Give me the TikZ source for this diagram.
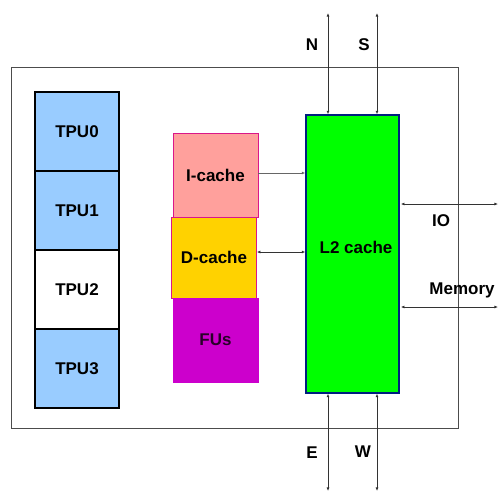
\documentclass[tikz,border=0pt]{standalone}
\usepackage{fontspec}
\setmainfont{Liberation Sans}
\usetikzlibrary{arrows.meta,positioning}

\definecolor{tpublue}{HTML}{99CCFF}
\definecolor{icpink}{HTML}{FFA09C}
\definecolor{dcgold}{HTML}{FFD200}
\definecolor{fumag}{HTML}{CC00CC}
\definecolor{l2green}{HTML}{00FF00}
\definecolor{l2edge}{HTML}{001F7F}

\begin{document}
\begin{tikzpicture}[
  x=0.03cm, y=-0.03cm,
  font=\fontsize{14.5}{16}\selectfont\bfseries,
  tpu/.style={draw=black,line width=1.2pt,fill=tpublue,minimum width=2.52cm,
              minimum height=2.37cm,inner sep=0pt},
  cachebox/.style={draw=magenta!80!violet,line width=0.6pt,minimum width=2.55cm,
              minimum height=2.5cm,inner sep=0pt},
  arr/.style={{Latex[length=3pt,width=2.5pt]}-{Latex[length=3pt,width=2.5pt]},
              line width=0.6pt,black!80},
  lbl/.style={inner sep=0pt},
]

% ---- Page frame -------------------------------------------------------------
\useasboundingbox (0,0) rectangle (499,492);

% ---- Chip outline -----------------------------------------------------------
\node[draw=black!70,line width=0.6pt,minimum width=13.41cm,minimum height=10.83cm,
      inner sep=0pt] (chip) at (234.5,247.5) {};

% ---- Thread processing units ------------------------------------------------
\node[tpu] (TPU0) at (77,131.5) {TPU0};
\node[tpu] (TPU1) at (77,210.5) {TPU1};
\node[tpu,fill=white] (TPU2) at (77,289.5) {TPU2};
\node[tpu] (TPU3) at (77,368.5) {TPU3};

% ---- Caches and functional units --------------------------------------------
\node[cachebox,fill=icpink,minimum height=2.52cm] (IC) at (215.5,175) {I-cache};
\node[cachebox,fill=dcgold,minimum height=2.43cm] (DC) at (214,257.5) {D-cache};
\node[cachebox,fill=fumag,draw=fumag,minimum height=2.52cm] (FU) at (215.5,340)
     {\textcolor{black!80!fumag}{FUs}};

% ---- Shared L2 --------------------------------------------------------------
\node[draw=l2edge,line width=1.2pt,fill=l2green,minimum width=2.79cm,
      minimum height=8.34cm,inner sep=0pt] (L2) at (352.5,254) {};
\node[lbl] (L2lbl) at (356,247) {L2 cache};

% ---- Cache links ------------------------------------------------------------
\draw[arr,-{Latex[length=3pt,width=2.5pt]},black!60] (IC.east |- 0,173) -- (L2.west |- 0,173);
\draw[arr] (DC.east |- 0,252) -- (L2.west |- 0,252);

% ---- Network ports ----------------------------------------------------------
\coordinate (Ntop) at (328,13);
\coordinate (Stop) at (377,13);
\coordinate (Ebot) at (328,491);
\coordinate (Wbot) at (377,491);
\coordinate (IOend) at (498,204);
\coordinate (Memend) at (498,307);

\draw[arr] (Ntop) -- (Ntop |- L2.north);
\draw[arr] (Stop) -- (Stop |- L2.north);
\draw[arr] (Ebot |- L2.south) -- (Ebot);
\draw[arr] (Wbot |- L2.south) -- (Wbot);
\draw[arr] ([xshift=1pt]L2.east |- IOend) -- (IOend);
\draw[arr] ([xshift=1pt]L2.east |- Memend) -- (Memend);

% ---- Port labels ------------------------------------------------------------
\node[lbl] (Nlbl) at (312,45) {N};
\node[lbl] (Slbl) at (364,45) {S};
\node[lbl] (Elbl) at (312,453) {E};
\node[lbl] (Wlbl) at (363,452) {W};
\node[lbl] (IOlbl) at (441,221) {IO};
\node[lbl] (Memlbl) at (462,290) {Memory};

\end{tikzpicture}
\end{document}
